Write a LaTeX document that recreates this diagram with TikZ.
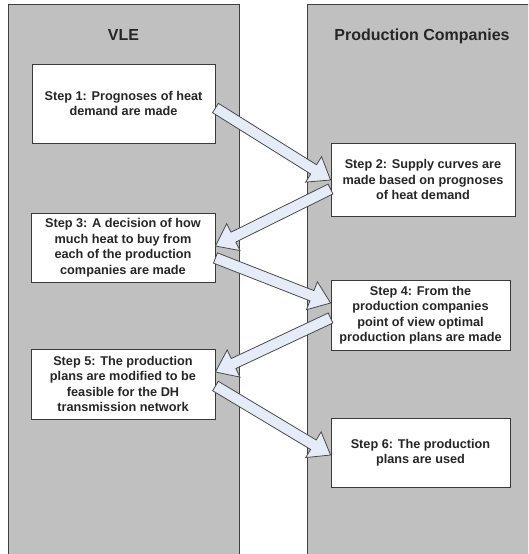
\documentclass[tikz,border=0pt]{standalone}
\usepackage{fontspec}
\setmainfont{Liberation Sans}
\usetikzlibrary{calc}
\definecolor{lanegray}{HTML}{C0C0C0}
\definecolor{laneborder}{HTML}{404040}
\definecolor{boxborder}{HTML}{3A3A3A}
\definecolor{arrowfill}{HTML}{E6ECF7}
\definecolor{arrowline}{HTML}{4A4A4A}
\tikzset{
  lane/.style={fill=lanegray, draw=laneborder, line width=0.9pt},
  lanetitle/.style={font=\bfseries\fontsize{16}{19}\selectfont, anchor=base, text=black!85},
  stepbox/.style={draw=boxborder, fill=white, line width=0.9pt, align=center,
    inner sep=2pt, font=\bfseries\fontsize{12.7}{15.5}\selectfont, text=black!85},
  barrow/.style={fill=arrowfill, draw=arrowline, line width=0.8pt, line join=miter},
}
\newcommand{\blockarr}[2]{%
  \path ($(#2)!20pt!(#1)$) coordinate (hb);
  \draw[barrow] ($(#1)!5.5pt!90:(#2)$) -- ($(hb)!5.5pt!90:(#2)$) -- ($(hb)!15pt!90:(#2)$)
    -- (#2) -- ($(hb)!15pt!-90:(#2)$) -- ($(hb)!5.5pt!-90:(#2)$) -- ($(#1)!5.5pt!-90:(#2)$) -- cycle;
}
\begin{document}
\begin{tikzpicture}[x=1pt,y=-1pt]
\useasboundingbox (0,0) rectangle (528,554);
\clip (0,0) rectangle (528,554);
\fill[white] (0,0) rectangle (528,554);
% lanes
\fill[lanegray] (8,4) rectangle (239,560);
\draw[laneborder, line width=0.9pt] (8,560) -- (8,4) -- (239,4) -- (239,560);
\fill[lanegray] (307,4) rectangle (535,560);
\draw[laneborder, line width=0.9pt] (307,560) -- (307,4) -- (535,4);
\node[lanetitle] (t1) at (123.5,40) {VLE};
\node[lanetitle] (t2) at (422,40) {Production Companies};
% steps
\node[stepbox, minimum width=183pt, minimum height=79pt] (s1) at (123.5,103.5)
  {Step 1: Prognoses of heat\\demand are made};
\node[stepbox, minimum width=184pt, minimum height=73pt] (s2) at (423,179.5)
  {Step 2: Supply curves are\\made based on prognoses\\of heat demand};
\node[stepbox, minimum width=184pt, minimum height=69pt] (s3) at (123,247.5)
  {Step 3: A decision of how\\much heat to buy from\\each of the production\\companies are made};
\node[stepbox, minimum width=179pt, minimum height=70pt] (s4) at (420.5,315)
  {Step 4: From the\\production companies\\point of view optimal\\production plans are made};
\node[stepbox, minimum width=184pt, minimum height=70pt] (s5) at (123,384)
  {Step 5: The production\\plans are modified to be\\feasible for the DH\\transmission network};
\node[stepbox, minimum width=179pt, minimum height=69pt] (s6) at (420.5,452.5)
  {Step 6: The production\\plans are used};
% arrow end points
\coordinate (a1s) at ($(s1.east)+(0,4.5)$);
\coordinate (a1e) at ($(s2.west)+(0,0.5)$);
\coordinate (a2s) at ($(s2.west)+(0,9.5)$);
\coordinate (a2e) at ($(s3.east)+(0,-1.5)$);
\coordinate (a3s) at ($(s3.east)+(0,10.5)$);
\coordinate (a3e) at ($(s4.west)+(0,-12)$);
\coordinate (a4s) at ($(s4.west)+(0,3)$);
\coordinate (a4e) at ($(s5.east)+(0,-12)$);
\coordinate (a5s) at ($(s5.east)+(0,2)$);
\coordinate (a5e) at ($(s6.west)+(0,2.5)$);
\blockarr{a1s}{a1e}
\blockarr{a2s}{a2e}
\blockarr{a3s}{a3e}
\blockarr{a4s}{a4e}
\blockarr{a5s}{a5e}
\end{tikzpicture}
\end{document}
